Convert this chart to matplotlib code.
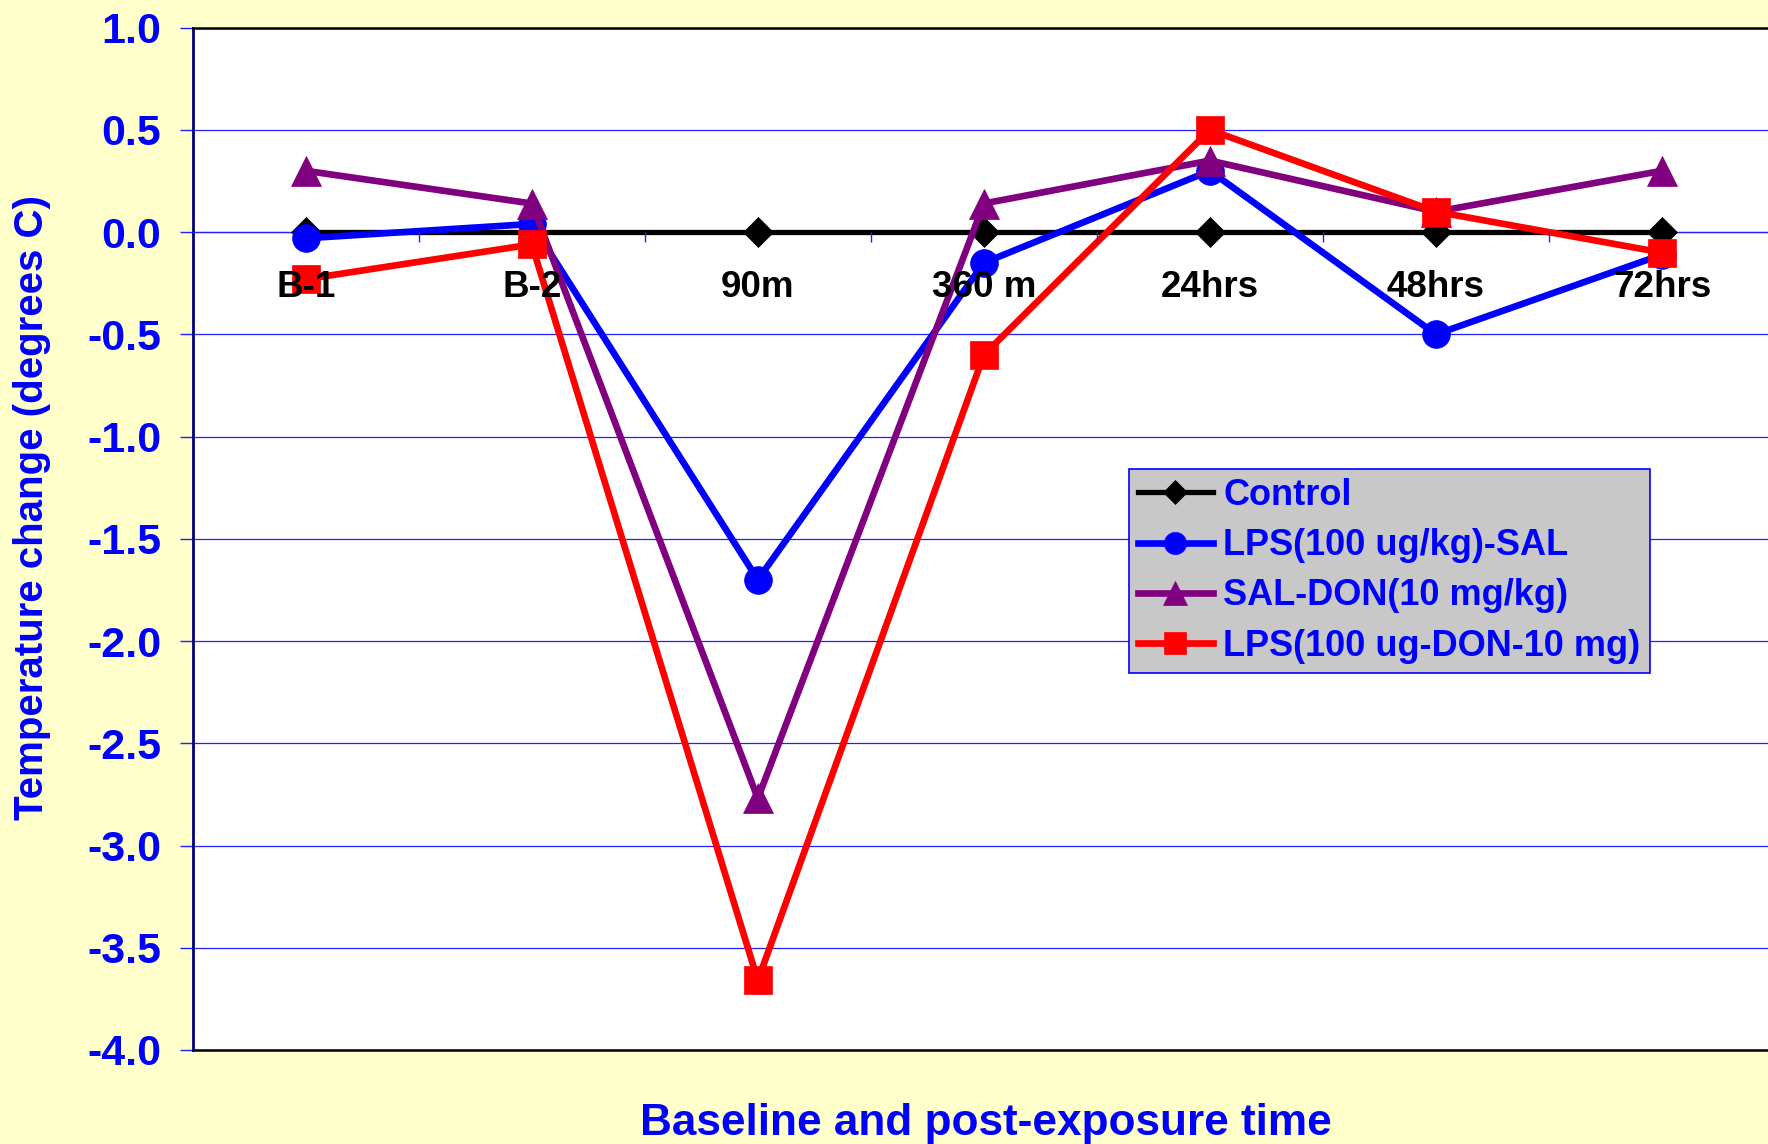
import matplotlib
matplotlib.use('Agg')
import matplotlib.pyplot as plt

# Chart data (temperature change in degrees C)
categories = ['B-1', 'B-2', '90m', '360 m', '24hrs', '48hrs', '72hrs']
control = [0, 0, 0, 0, 0, 0, 0]
lps_sal = [-0.03, 0.04, -1.70, -0.15, 0.30, -0.50, -0.11]
sal_don = [0.30, 0.14, -2.77, 0.14, 0.35, 0.10, 0.30]
lps_don = [-0.23, -0.06, -3.66, -0.60, 0.50, 0.10, -0.10]

y_ticks = [1.0, 0.5, 0.0, -0.5, -1.0, -1.5, -2.0, -2.5, -3.0, -3.5, -4.0]
y_tick_labels = ['1.0', '0.5', '0.0', '-0.5', '-1.0', '-1.5', '-2.0', '-2.5', '-3.0', '-3.5', '-4.0']

plt.rcParams['font.family'] = ['Liberation Sans', 'DejaVu Sans']
plt.rcParams['font.weight'] = 'bold'
plt.rcParams['axes.unicode_minus'] = False

BLUE = '#0000FF'
GRID = '#2020FF'
BG = '#FFFFCC'

fig = plt.figure(figsize=(17.68, 11.44), dpi=100, facecolor=BG)
ax = fig.add_axes([0.109, 0.0822, 0.895, 0.8936])
ax.set_facecolor('white')

x = list(range(len(categories)))

# Series, drawn in the same order as the original (red ends on top)
ax.plot(x, control, color='black', lw=3.8, marker='D', ms=15, mew=0.5, label='Control', zorder=3)
ax.plot(x, lps_sal, color=BLUE, lw=4.8, marker='o', ms=20, mew=0.5, label='LPS(100 ug/kg)-SAL', zorder=3)
ax.plot(x, sal_don, color='#800080', lw=4.8, marker='^', ms=21, mew=0.5, label='SAL-DON(10 mg/kg)', zorder=3)
ax.plot(x, lps_don, color='#FF0000', lw=4.8, marker='s', ms=19.5, mew=0.5, label='LPS(100 ug-DON-10 mg)', zorder=3)

ax.set_xlim(-0.5, 6.5)
ax.set_ylim(-4.0, 1.0)

# Horizontal gridlines
ax.set_yticks(y_ticks)
ax.set_yticklabels(y_tick_labels)
ax.yaxis.grid(True, color=GRID, lw=0.9)
ax.set_axisbelow(True)
ax.tick_params(axis='y', length=9.5, width=1.0, color=GRID, direction='out',
               pad=13, labelsize=31, labelcolor=BLUE)

# Category axis crosses at zero, labels sit just below it (on top of the lines)
ax.spines['bottom'].set_position(('data', 0))
ax.spines['bottom'].set_color(GRID)
ax.spines['bottom'].set_linewidth(0.9)
ax.set_xticks(x)
ax.set_xticklabels(categories)
ax.set_xticks([i + 0.5 for i in range(6)], minor=True)
ax.tick_params(axis='x', which='major', length=0, pad=27, labelsize=26.5, labelcolor='black')
ax.tick_params(axis='x', which='minor', length=7, width=1.0, color=GRID, direction='out')
ax.xaxis.set_zorder(4)

# Frame
ax.spines['left'].set_color('#000080')
ax.spines['left'].set_linewidth(2.0)
ax.spines['top'].set_color('black')
ax.spines['top'].set_linewidth(1.8)
ax.spines['right'].set_visible(False)
ax.axhline(-4.0, color='black', lw=1.8, clip_on=False, zorder=2)

# Axis titles
fig.text(0.018, 0.556, 'Temperature change (degrees C)', rotation=90,
         ha='center', va='center', fontsize=29, color=BLUE)
fig.text(0.5577, 0.0075, 'Baseline and post-exposure time',
         ha='center', va='baseline', fontsize=31.8, color=BLUE)

# Legend
leg = ax.legend(loc='upper left', bbox_to_anchor=(1128.5 / 1768, 1 - 469 / 1144),
                bbox_transform=fig.transFigure, borderaxespad=0, fontsize=26,
                labelcolor=BLUE, handlelength=2.1, handletextpad=0.28,
                borderpad=0.25, labelspacing=0.42, markerscale=0.8,
                fancybox=False, framealpha=1, facecolor='#C8C8C8', edgecolor=BLUE)
leg.get_frame().set_linewidth(1.2)

plt.savefig('out.png', dpi=100, facecolor=fig.get_facecolor())
